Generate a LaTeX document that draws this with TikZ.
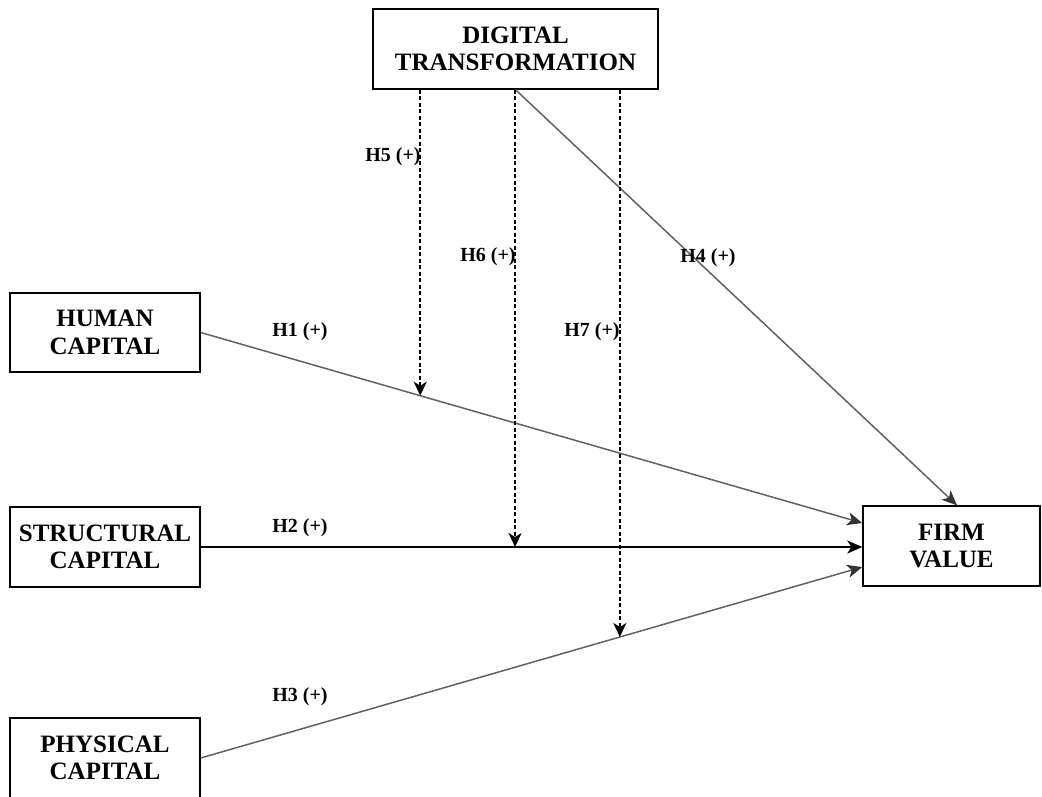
\documentclass[tikz,border=0pt]{standalone}
\usepackage{fontspec}
\setmainfont{Liberation Serif}
\usetikzlibrary{arrows.meta}
\begin{document}
\begin{tikzpicture}[x=1pt,y=-1pt,
  construct/.style={draw=black, line width=1.4pt, fill=white, align=center,
    font=\fontsize{25}{27.5}\selectfont\bfseries, inner sep=0pt},
  hyp/.style={font=\fontsize{20}{22}\selectfont\bfseries, inner sep=0pt},
  path/.style={line width=1.5pt, -{Stealth[length=15pt,width=13pt,inset=4pt]}},
  modpath/.style={line width=1.5pt, dash pattern=on 4pt off 2.5pt,
    -{Stealth[length=14pt,width=13pt,inset=4pt]}},
  graypath/.style={path, draw=black!62, -{Stealth[length=15pt,width=13pt,inset=4pt,color=black!80]}}
]
\useasboundingbox (0,0) rectangle (1042,796);

% constructs
\node[construct, minimum width=285pt, minimum height=80pt] (DT) at (515.5,49) {DIGITAL\\TRANSFORMATION};
\node[construct, minimum width=190pt, minimum height=79pt] (HC) at (105,332.5) {HUMAN\\CAPITAL};
\node[construct, minimum width=190pt, minimum height=80pt] (SC) at (105,547) {STRUCTURAL\\CAPITAL};
\node[construct, minimum width=190pt, minimum height=80pt] (PC) at (105,758) {PHYSICAL\\CAPITAL};
\node[construct, minimum width=177pt, minimum height=80pt] (FV) at (951.5,546) {FIRM\\VALUE};

% direct effects
\draw[graypath] (HC.east) -- coordinate[pos=0.3318] (m5) ([yshift=23pt]FV.west);
\draw[path] (SC.east) -- coordinate[pos=0.4751] (m6) (SC.east -| FV.west);
\draw[graypath] (PC.east) -- coordinate[pos=0.6335] (m7) ([yshift=-21pt]FV.west);
\draw[graypath] (DT.south) -- ([xshift=5.5pt]FV.north);

% moderating effects
\draw[modpath] (DT.south -| m5) -- (m5);
\draw[modpath] (DT.south -| m6) -- (m6);
\draw[modpath] (DT.south -| m7) -- (m7);

% hypothesis labels
\node[hyp] (l1) at (300,332) {H1 (+)};
\node[hyp] (l2) at (300,528) {H2 (+)};
\node[hyp] (l3) at (300,697) {H3 (+)};
\node[hyp] (l4) at (708,258) {H4 (+)};
\node[hyp] (l5) at (393,157) {H5 (+)};
\node[hyp] (l6) at (488,257) {H6 (+)};
\node[hyp] (l7) at (592,332) {H7 (+)};
\end{tikzpicture}
\end{document}
